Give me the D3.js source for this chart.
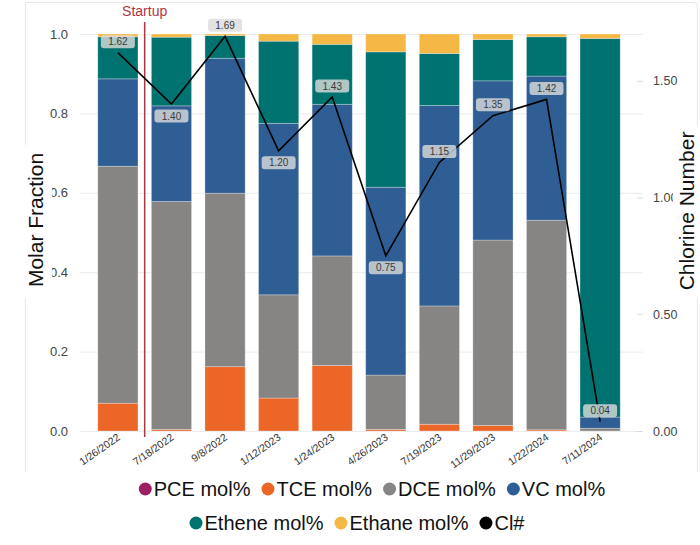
<!DOCTYPE html>
<html lang="en">
<head>
    <meta charset="UTF-8">
    <title>Molar fraction and chlorine number</title>
    <script src="https://d3js.org/d3.v7.min.js"></script>
    <style>
        body {
            margin: 0;
            background-color: #ffffff;
            font-family: "Liberation Sans", Arial, sans-serif;
        }
        .axis path { display: none; }
        .grid line { stroke: #ececec; }
        .tick text { fill: #444; }
    </style>
</head>
<body>
    <svg id="chart" width="700" height="545"></svg>

    <script>
        // sample dates
        const dates = ["1/26/2022", "7/18/2022", "9/8/2022", "1/12/2023", "1/24/2023",
                       "4/26/2023", "7/19/2023", "11/29/2023", "1/22/2024", "7/11/2024"];

        // molar fractions, bottom to top of each stack
        const pce    = [0,     0,     0,     0,     0,     0,     0,     0,     0,     0];
        const tce    = [0.070, 0.004, 0.162, 0.083, 0.165, 0.004, 0.017, 0.014, 0.003, 0.000];
        const dce    = [0.597, 0.574, 0.437, 0.260, 0.276, 0.137, 0.298, 0.467, 0.528, 0.007];
        const vc     = [0.220, 0.241, 0.340, 0.432, 0.382, 0.473, 0.505, 0.401, 0.363, 0.028];
        const ethene = [0.106, 0.173, 0.057, 0.207, 0.151, 0.341, 0.131, 0.104, 0.099, 0.954];
        const ethane = [0.007, 0.008, 0.004, 0.018, 0.026, 0.045, 0.049, 0.014, 0.007, 0.011];

        // chlorine number (right axis)
        const clNumber = [1.62, 1.40, 1.69, 1.20, 1.43, 0.75, 1.15, 1.35, 1.42, 0.04];

        const leftTicks = [0, 0.2, 0.4, 0.6, 0.8, 1.0];
        const rightTicks = [0, 0.5, 1.0, 1.5];

        const seriesKeys = ["PCE mol%", "TCE mol%", "DCE mol%", "VC mol%", "Ethene mol%", "Ethane mol%"];
        const seriesValues = [pce, tce, dce, vc, ethene, ethane];
        const seriesColors = ["#9c1f66", "#ec6628", "#878484", "#2e5e93", "#007270", "#f6b845"];
        const lineColor = "#000000";

        // rows for the stack
        const table = dates.map((d, i) => {
            const row = { date: d };
            seriesKeys.forEach((k, j) => row[k] = seriesValues[j][i]);
            return row;
        });

        const svg = d3.select("#chart");

        // faint card border (no bottom edge)
        svg.append("path")
            .attr("d", "M25.5,472 L25.5,2.5 L693,2.5 Q697.5,2.5 697.5,7 L697.5,472")
            .attr("fill", "none")
            .attr("stroke", "#e8e8e8");

        const plotLeft = 80, plotRight = 643;
        const x = d3.scaleBand().domain(dates).range([71, 647]).paddingInner(0.25).paddingOuter(0.5);
        const y = d3.scaleLinear().domain([0, 1]).range([431, 34]);
        const yCl = d3.scaleLinear().domain([0, 1.7]).range([431, 34]);

        // left axis with gridlines
        svg.append("g")
            .attr("class", "axis grid")
            .attr("transform", `translate(${plotLeft},0)`)
            .call(d3.axisLeft(y).tickValues(leftTicks).tickFormat(d3.format(".1f"))
                .tickSize(-(plotRight - plotLeft)).tickPadding(12))
            .selectAll("text").style("font-size", "13px");

        // right axis
        const rAxis = svg.append("g")
            .attr("class", "axis")
            .attr("transform", `translate(${plotRight - 6},0)`)
            .call(d3.axisRight(yCl).tickValues(rightTicks).tickFormat(d3.format(".2f")).tickSize(6).tickPadding(10));
        rAxis.selectAll("line").attr("stroke", "#dcdcdc");
        rAxis.selectAll("text").style("font-size", "12.5px");

        // stacked bars
        const stack = d3.stack().keys(seriesKeys)(table);
        svg.append("g").selectAll("g")
            .data(stack)
            .enter().append("g")
            .attr("fill", (d, i) => seriesColors[i])
            .selectAll("rect")
            .data(d => d)
            .enter().append("rect")
            .attr("x", d => x(d.data.date))
            .attr("y", d => y(d[1]))
            .attr("width", x.bandwidth())
            .attr("height", d => Math.max(0, y(d[0]) - y(d[1])))
            .attr("stroke", "rgba(255,255,255,0.35)")
            .attr("stroke-width", 0.8);

        // x axis labels
        const xAxis = svg.append("g")
            .attr("class", "axis")
            .attr("transform", "translate(0,431)")
            .call(d3.axisBottom(x).tickSize(0).tickPadding(0));
        xAxis.selectAll("text")
            .attr("y", 0).attr("dy", 0)
            .attr("transform", "translate(3,8) rotate(-35)")
            .attr("text-anchor", "end")
            .style("font-size", "10.5px")
            .style("fill", "#333");

        // startup marker between first two samples
        const startX = (x(dates[0]) + x.bandwidth() + x(dates[1])) / 2;
        svg.append("line")
            .attr("x1", startX).attr("x2", startX)
            .attr("y1", 22).attr("y2", 437)
            .attr("stroke", "#a83845")
            .attr("stroke-width", 1.5);
        svg.append("text")
            .attr("x", startX).attr("y", 16)
            .attr("text-anchor", "middle")
            .style("font-size", "14px")
            .style("fill", "#b03545")
            .text("Startup");

        // chlorine number line
        const cx = d => x(d) + x.bandwidth() / 2;
        const line = d3.line().x((d, i) => cx(dates[i])).y(d => yCl(d));
        svg.append("path")
            .datum(clNumber)
            .attr("d", line)
            .attr("fill", "none")
            .attr("stroke", lineColor)
            .attr("stroke-width", 1.6);

        // value labels: below local minima, otherwise above
        const labels = svg.append("g").selectAll("g")
            .data(clNumber)
            .enter().append("g")
            .attr("transform", (d, i) => {
                const below = i > 0 && i < clNumber.length - 1 && clNumber[i - 1] > d && clNumber[i + 1] > d;
                return `translate(${cx(dates[i])},${yCl(d) + (below ? 12 : -11)})`;
            });
        labels.append("rect")
            .attr("x", -17).attr("y", -6.5)
            .attr("width", 34).attr("height", 13)
            .attr("rx", 3)
            .attr("fill", "#dcdcdc")
            .attr("fill-opacity", 0.8);
        labels.append("text")
            .attr("text-anchor", "middle")
            .attr("dy", "0.35em")
            .style("font-size", "10px")
            .style("fill", "#3a3a3a")
            .text(d => d3.format(".2f")(d));

        // axis titles, with white backing like the original
        svg.append("rect").attr("x", 22).attr("y", 145).attr("width", 30).attr("height", 153).attr("fill", "#fff");
        svg.append("text")
            .attr("transform", "translate(43,220) rotate(-90)")
            .attr("text-anchor", "middle")
            .style("font-size", "21px")
            .style("fill", "#111")
            .text("Molar Fraction");
        svg.append("rect").attr("x", 673).attr("y", 126).attr("width", 27).attr("height", 172).attr("fill", "#fff");
        svg.append("text")
            .attr("transform", "translate(694,211) rotate(-90)")
            .attr("text-anchor", "middle")
            .style("font-size", "21px")
            .style("fill", "#111")
            .text("Chlorine Number");

        // legend in two centred rows
        const legendItems = seriesKeys.map((k, i) => ({ label: k, color: seriesColors[i] }))
            .concat([{ label: "Cl#", color: lineColor }]);
        const rows = [
            { items: legendItems.slice(0, 4), y: 489, center: 372 },
            { items: legendItems.slice(4), y: 523, center: 357 }
        ];
        rows.forEach(row => {
            const g = svg.append("g");
            let pos = 0;
            row.items.forEach(item => {
                const ig = g.append("g").attr("transform", `translate(${pos},0)`);
                ig.append("circle").attr("cx", 6.5).attr("cy", 0).attr("r", 6.5).attr("fill", item.color);
                const t = ig.append("text")
                    .attr("x", 15).attr("dy", "0.35em")
                    .style("font-size", "20px")
                    .style("fill", "#111")
                    .text(item.label);
                pos += 15 + t.node().getComputedTextLength() + 11;
            });
            const total = pos - 11;
            g.attr("transform", `translate(${row.center - total / 2},${row.y})`);
        });
    </script>
</body>
</html>
